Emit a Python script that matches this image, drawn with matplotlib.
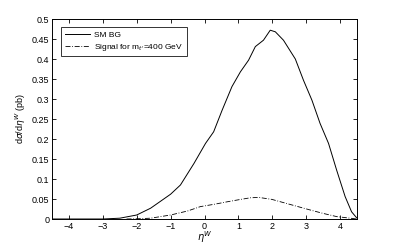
import numpy as np
import matplotlib
matplotlib.use("Agg")
import matplotlib.pyplot as plt
from matplotlib.ticker import FuncFormatter

plt.rcParams['font.family'] = ['Liberation Sans', 'DejaVu Sans']

# SM background
eta_bg = [-4.5, -3.5, -3.0, -2.5, -2.0, -1.59, -1.0, -0.71, -0.31, 0.03,
          0.27, 0.52, 0.81, 1.06, 1.3, 1.5, 1.74, 1.94, 2.09, 2.33, 2.68,
          2.92, 3.17, 3.41, 3.66, 3.9, 4.15, 4.34, 4.5]
xs_bg = [0.0, 0.0, 0.0, 0.002, 0.01, 0.027, 0.062, 0.085, 0.139, 0.189,
         0.218, 0.272, 0.331, 0.368, 0.397, 0.431, 0.447, 0.472, 0.468,
         0.447, 0.40, 0.347, 0.297, 0.239, 0.189, 0.122, 0.056, 0.018, 0.002]

# signal, m_t' = 400 GeV
eta_sig = [-2.3, -2.0, -1.59, -1.0, -0.5, -0.12, 0.3, 0.67, 1.0, 1.35,
           1.6, 1.99, 2.5, 3.12, 3.5, 3.9, 4.5]
xs_sig = [0.0, 0.0005, 0.002, 0.01, 0.02, 0.031, 0.037, 0.043, 0.048,
          0.053, 0.054, 0.049, 0.037, 0.0225, 0.014, 0.006, 0.0]

fig = plt.figure(figsize=(3.95, 2.47), dpi=100)
ax = fig.add_axes([52/395, 1 - 219/247, 305/395, 200/247])

ax.plot(eta_bg, xs_bg, color='black', lw=0.7, label='SM BG')
ax.plot(eta_sig, xs_sig, color='black', lw=0.6, ls=(0, (6, 2, 1, 2)),
        label="Signal for m$_{t'}$=400 GeV")

ax.set_xlim(-4.5, 4.5)
ax.set_ylim(0, 0.5)
ax.set_xticks(np.arange(-4, 5, 1))
ax.set_yticks(np.arange(0, 0.501, 0.05))
ax.yaxis.set_major_formatter(FuncFormatter(lambda v, p: '%g' % round(v, 2)))
ax.tick_params(direction='in', top=True, right=True, labelsize=6.5,
               length=3, width=0.6, pad=2)
for s in ax.spines.values():
    s.set_linewidth(0.7)

ax.set_xlabel('$\\eta^W$', fontsize=7, labelpad=-1)
ax.set_ylabel('d$\\sigma$/d$\\eta^W$ (pb)', fontsize=6.5, labelpad=3)

leg = ax.legend(loc='upper left', bbox_to_anchor=(0.03, 0.96), fontsize=6,
                frameon=True, fancybox=False, edgecolor='black',
                handlelength=3.0, handletextpad=0.5, borderpad=0.45,
                labelspacing=0.35, borderaxespad=0)
leg.get_frame().set_linewidth(0.7)

fig.savefig('out.png', dpi=100)
